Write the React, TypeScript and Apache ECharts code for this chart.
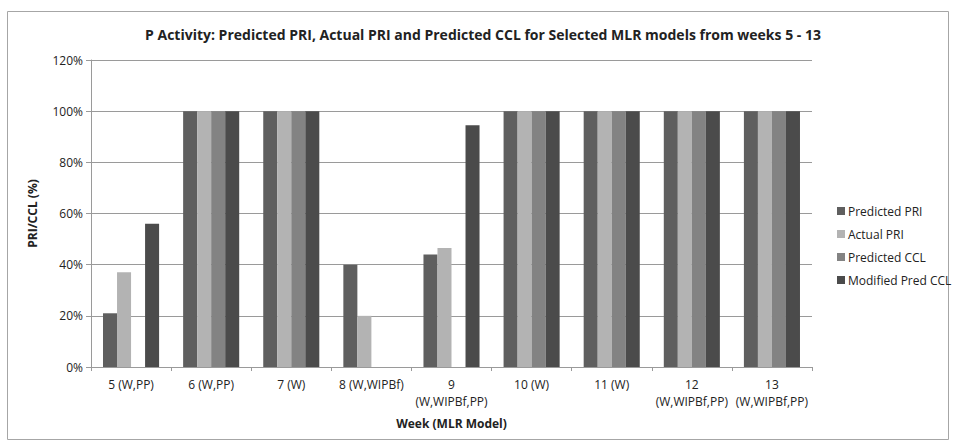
import React, { useEffect, useRef } from "react";
import * as echarts from "echarts";

const categories = [
  "5 (W,PP)",
  "6 (W,PP)",
  "7 (W)",
  "8 (W,WIPBf)",
  "9\n(W,WIPBf,PP)",
  "10 (W)",
  "11 (W)",
  "12\n(W,WIPBf,PP)",
  "13\n(W,WIPBf,PP)",
];
const predictedPRI = [21, 100, 100, 40, 44, 100, 100, 100, 100];
const actualPRI = [37, 100, 100, 20, 46.5, 100, 100, 100, 100];
const predictedCCL = [0, 100, 100, 0, 0, 100, 100, 100, 100];
const modifiedPredCCL = [56, 100, 100, 0, 94.5, 100, 100, 100, 100];
const seriesNames = ["Predicted PRI", "Actual PRI", "Predicted CCL", "Modified Pred CCL"];
const colors = ["#5f5f5f", "#b3b3b3", "#838383", "#4b4b4b"];

const FONT = "'Open Sans', 'Noto Sans', sans-serif";

export default function App() {
  const ref = useRef<HTMLDivElement>(null);
  useEffect(() => {
    document.body.style.margin = "0";
    const chart = echarts.init(ref.current!, null, { renderer: "svg" });
    const data = [predictedPRI, actualPRI, predictedCCL, modifiedPredCCL];
    chart.setOption({
      animation: false,
      backgroundColor: "#ffffff",
      textStyle: { fontFamily: FONT },
      title: {
        text: "P Activity: Predicted PRI, Actual PRI and Predicted CCL for Selected MLR models from weeks 5 - 13",
        left: 478,
        textAlign: "center",
        top: 22,
        textStyle: { fontFamily: FONT, fontSize: 14, fontWeight: "bold", color: "#222" },
      },
      graphic: [
        {
          type: "rect",
          shape: { x: 7.5, y: 11.5, width: 941, height: 428 },
          style: { fill: "none", stroke: "#a6a6a6", lineWidth: 1 },
          silent: true,
        },
      ],
      legend: {
        orient: "vertical",
        left: 832,
        top: 200,
        itemWidth: 8,
        itemHeight: 8,
        itemGap: 11,
        icon: "rect",
        textStyle: { fontFamily: FONT, fontSize: 12, color: "#222", padding: [0, 0, 0, -2] },
        data: seriesNames,
      },
      grid: { left: 91, right: 142, top: 60, bottom: 76 },
      xAxis: {
        type: "category",
        data: categories,
        name: "Week (MLR Model)",
        nameLocation: "middle",
        nameGap: 50,
        nameTextStyle: { fontFamily: FONT, fontSize: 12, fontWeight: "bold", color: "#222" },
        axisLine: { lineStyle: { color: "#9a9a9a" } },
        axisTick: { show: true, alignWithLabel: false, length: 4, lineStyle: { color: "#9a9a9a" } },
        axisLabel: { fontFamily: FONT, fontSize: 12, color: "#222", margin: 9, interval: 0, lineHeight: 17 },
      },
      yAxis: {
        type: "value",
        min: 0,
        max: 120,
        interval: 20,
        name: "PRI/CCL (%)",
        nameLocation: "middle",
        nameGap: 53,
        nameRotate: 90,
        nameTextStyle: { fontFamily: FONT, fontSize: 12, fontWeight: "bold", color: "#222" },
        axisLine: { show: true, lineStyle: { color: "#9a9a9a" } },
        axisTick: { show: true, length: 5, lineStyle: { color: "#9a9a9a" } },
        axisLabel: { formatter: "{value}%", fontFamily: FONT, fontSize: 12, color: "#222", margin: 8 },
        splitLine: { lineStyle: { color: "#9a9a9a", width: 1 } },
      },
      series: seriesNames.map((name, i) => ({
        name,
        type: "bar",
        data: data[i],
        barGap: "0%",
        barCategoryGap: "30%",
        itemStyle: { color: colors[i] },
      })),
    });
    return () => chart.dispose();
  }, []);
  return <div ref={ref} style={{ width: 954, height: 443 }} />;
}
